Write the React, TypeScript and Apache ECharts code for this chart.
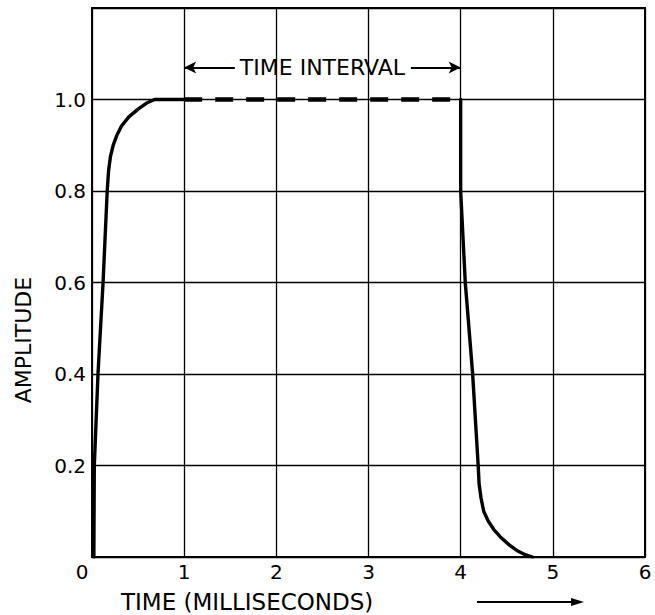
import React, { useEffect, useRef } from "react";
import * as echarts from "echarts";

const riseX = [0.02, 0.025, 0.065, 0.12, 0.165, 0.18, 0.2, 0.23, 0.27, 0.32, 0.4, 0.5, 0.6, 0.68, 1.0];
const riseY = [0, 0.2, 0.4, 0.6, 0.8, 0.845, 0.875, 0.9, 0.922, 0.942, 0.962, 0.979, 0.993, 1.0, 1.0];
const flatX = [1, 4];
const flatY = [1, 1];
const fallX = [4, 4, 4.05, 4.13, 4.19, 4.2, 4.22, 4.25, 4.3, 4.36, 4.44, 4.53, 4.62, 4.7, 4.78];
const fallY = [1, 0.8, 0.6, 0.4, 0.2, 0.16, 0.13, 0.1, 0.078, 0.06, 0.042, 0.026, 0.013, 0.005, 0];
const yTickLabels = ["0.2", "0.4", "0.6", "0.8", "1.0"];
const intervalLabel = "TIME INTERVAL";
const intervalLevel = 1.07;
const intervalStart = 1;
const intervalEnd = 4;
const intervalArrowEnds = [1.55, 3.46];

const zip = (xs: number[], ys: number[]) => xs.map((x, i) => [x, ys[i]]);

export default function App() {
  const ref = useRef<HTMLDivElement>(null);
  useEffect(() => {
    if (!ref.current) return;
    const chart = echarts.init(ref.current, undefined, { renderer: "svg" });
    const font = "DejaVu Sans";
    chart.setOption({
      animation: false,
      backgroundColor: "#fff",
      textStyle: { fontFamily: font, color: "#000" },
      grid: {
        left: 92,
        right: 10,
        top: 8,
        bottom: 58,
        show: true,
        borderColor: "#000",
        borderWidth: 2,
        backgroundColor: "transparent",
      },
      xAxis: {
        type: "value",
        min: 0,
        max: 6,
        interval: 1,
        axisLine: { show: true, lineStyle: { color: "#000", width: 2 } },
        axisTick: { show: false },
        splitLine: { show: true, lineStyle: { color: "#000", width: 1.3 } },
        axisLabel: {
          color: "#000",
          fontSize: 20,
          fontFamily: font,
          margin: 5,
          formatter: (v: number) => (v === 0 ? "{z|0}" : String(v)),
          rich: { z: { fontSize: 20, fontFamily: font, color: "#000", padding: [0, 20, 0, 0] } },
        },
      },
      yAxis: {
        type: "value",
        min: 0,
        max: 1.2,
        interval: 0.2,
        axisLine: { show: true, lineStyle: { color: "#000", width: 2 } },
        axisTick: { show: false },
        splitLine: { show: true, lineStyle: { color: "#000", width: 1.3 } },
        axisLabel: {
          color: "#000",
          fontSize: 20,
          fontFamily: font,
          margin: 6,
          formatter: (v: number) => {
            const s = v.toFixed(1);
            return yTickLabels.includes(s) ? s : "";
          },
        },
      },
      series: [
        {
          type: "line",
          data: zip(riseX, riseY),
          showSymbol: false,
          symbol: "none",
          lineStyle: { color: "#000", width: 3.4, cap: "round", join: "round" },
        },
        {
          type: "line",
          data: zip(flatX, flatY),
          showSymbol: false,
          symbol: "none",
          lineStyle: { color: "#000", width: 4.5, type: [18, 13] },
          markLine: {
            silent: true,
            symbol: ["none", "none"],
            symbolSize: [9, 12],
            label: { show: false },
            lineStyle: { color: "#000", width: 2, type: "solid" },
            data: [
              [
                { coord: [intervalStart, intervalLevel], symbol: "arrow" },
                { coord: [intervalArrowEnds[0], intervalLevel], symbol: "none" },
              ],
              [
                { coord: [intervalArrowEnds[1], intervalLevel], symbol: "none" },
                { coord: [intervalEnd, intervalLevel], symbol: "arrow" },
              ],
            ],
          },
          markPoint: {
            silent: true,
            data: [
              {
                coord: [(intervalStart + intervalEnd) / 2, intervalLevel],
                symbol: "circle",
                symbolSize: 0,
                label: {
                  show: true,
                  position: "inside",
                  formatter: intervalLabel,
                  fontSize: 22,
                  fontFamily: font,
                  color: "#000",
                },
              },
            ],
          },
        },
        {
          type: "line",
          data: zip(fallX, fallY),
          showSymbol: false,
          symbol: "none",
          lineStyle: { color: "#000", width: 3.4, cap: "round", join: "round" },
        },
      ],
      graphic: [
        {
          type: "text",
          x: 23,
          y: 340,
          rotation: Math.PI / 2,
          style: {
            text: "AMPLITUDE",
            fontSize: 22,
            fontFamily: font,
            fill: "#000",
            align: "center",
            verticalAlign: "middle",
          },
        },
        {
          type: "text",
          x: 121,
          y: 602,
          style: {
            text: "TIME (MILLISECONDS)",
            fontSize: 23,
            fontFamily: font,
            fill: "#000",
            align: "left",
            verticalAlign: "middle",
          },
        },
        {
          type: "line",
          shape: { x1: 477, y1: 602, x2: 574, y2: 602 },
          style: { stroke: "#000", lineWidth: 2 },
        },
        {
          type: "polygon",
          shape: { points: [[571, 598], [584, 602], [571, 606]] },
          style: { fill: "#000" },
        },
      ],
    });
    return () => chart.dispose();
  }, []);
  return (
    <div
      ref={ref}
      style={{ position: "fixed", left: 0, top: 0, width: 655, height: 615, background: "#fff" }}
    />
  );
}
